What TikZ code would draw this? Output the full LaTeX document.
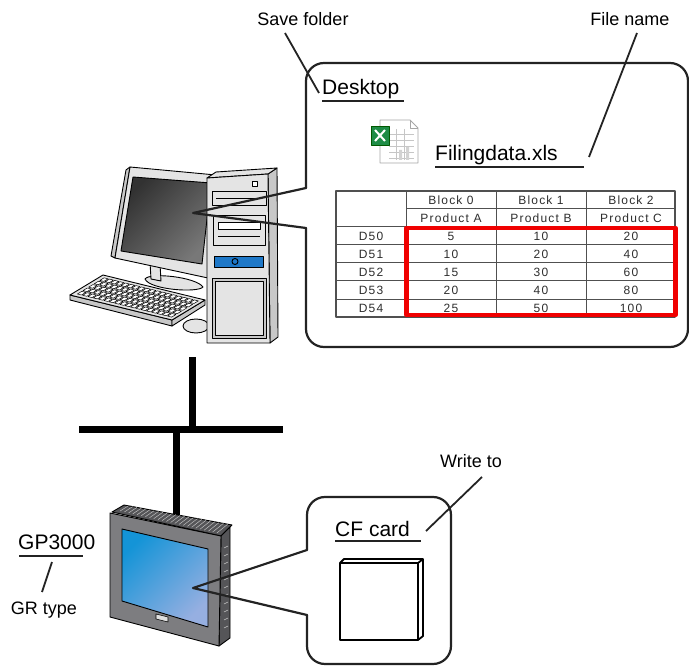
\documentclass[tikz,border=0pt]{standalone}
\usepackage{fontspec}
\setmainfont{Liberation Sans}
\newfontfamily\tabfont[LetterSpace=10]{Liberation Sans}
\definecolor{linecol}{RGB}{35,35,35}
\definecolor{tabline}{RGB}{80,80,80}
\definecolor{tabtext}{RGB}{45,45,45}
\definecolor{pcgray}{RGB}{228,228,228}
\definecolor{pcside}{RGB}{200,200,200}
\definecolor{pcblue}{RGB}{30,120,200}
\definecolor{scrA}{RGB}{50,50,50}
\definecolor{scrB}{RGB}{120,120,120}
\definecolor{gpgray}{RGB}{125,125,128}
\definecolor{gpdark}{RGB}{85,85,88}
\definecolor{gpA}{RGB}{20,148,215}
\definecolor{gpB}{RGB}{150,175,225}
\definecolor{xlgreen}{RGB}{30,140,70}
\definecolor{redbox}{RGB}{240,0,0}
\begin{document}
\begin{tikzpicture}[x=1pt,y=-1pt,line join=round,
  callout/.style={draw=linecol,line width=2.2pt},
  leader/.style={draw=linecol,line width=1.8pt},
  uline/.style={draw=linecol,line width=2.2pt},
  captxt/.style={font=\fontsize{18}{20}\selectfont,inner sep=0pt},
  bigtxt/.style={font=\fontsize{21}{24}\selectfont,inner sep=0pt},
  celltxt/.style={font=\tabfont\fontsize{12}{13}\selectfont,text=tabtext,inner sep=0pt},
  part/.style={draw=black,line width=0.9pt},
  net/.style={draw=black,line width=7pt}]
\useasboundingbox (0,0) rectangle (689,666);

% ---------------- network ----------------
\coordinate (pcport) at (192,357);
\coordinate (pcjoin) at (192,429);
\coordinate (busL) at (79,429);
\coordinate (busR) at (283,429);
\coordinate (gpjoin) at (176,429);
\coordinate (gpport) at (176,515);
\draw[net] (pcport) -- (pcjoin);
\draw[net] (busL) -- (busR);
\draw[net] (gpjoin) -- (gpport);

% ---------------- PC ----------------
% monitor stand
\draw[part,fill=pcgray] (145,279) .. controls (150,272) and (196,277) .. (203,287) .. controls (198,293) and (150,290) .. (145,279) -- cycle;
\draw[part,fill=pcgray] (150,262) -- (160,264) -- (161,281) -- (151,279) -- cycle;
% monitor
\draw[part,fill=pcside] (130,167) -- (126,170) -- (111,256) -- (115,258) -- cycle;
\draw[part,fill=pcgray] (130,167) -- (216,175) -- (208,278) -- (115,258) -- cycle;
\shade[top color=scrA,bottom color=scrB,shading angle=45] (133,177) -- (211,183) -- (202,264) -- (121,251) -- cycle;
\draw[part] (133,177) -- (211,183) -- (202,264) -- (121,251) -- cycle;
% keyboard
\draw[part,fill=pcside] (70,295) -- (172,320) -- (172,326) -- (70,300) -- cycle;
\draw[part,fill=pcside] (172,320) -- (205,300) -- (205,305) -- (172,326) -- cycle;
\draw[part,fill=pcgray] (103,275) -- (205,300) -- (172,320) -- (70,295) -- cycle;
\begin{scope}[shift={(103,275)},x={(102pt,-25pt)},y={(-33pt,-20pt)}]
  \foreach \i in {0,...,17}
    \foreach \j in {0,...,4}
      \draw[black,line width=0.5pt,fill=white]
        ({0.04+\i*0.052},{0.09+\j*0.17}) -- ++(0.04,0) -- ++(0,0.13) -- ++(-0.04,0) -- cycle;
\end{scope}
% mouse
\draw[part,fill=pcgray] (196,326) ellipse [x radius=13pt,y radius=7pt];
% tower
\draw[part,fill=pcside] (268,174) -- (277,168) -- (278,337) -- (270,343) -- cycle;
\draw[part,fill=pcgray] (207,178) -- (216,172) -- (277,168) -- (268,174) -- cycle;
\draw[part,fill=pcgray] (207,178) -- (268,174) -- (270,343) -- (207,343) -- cycle;
\draw[part,fill=white] (252,181) rectangle (257,186);
\draw[part,fill=pcgray] (212,191) rectangle (266,205);
\draw[part] (216,198) -- (262,198);
\draw[part,fill=pcgray] (213,215) rectangle (265,245);
\draw[part,fill=white] (218,222) rectangle (260,229);
\draw[part] (218,236) -- (260,236);
\draw[part,fill=pcblue] (214,256) rectangle (263,267);
\draw[part] (235,261.5) circle [radius=3pt];
\draw[part,fill=pcside] (212,278) rectangle (266,338);
\draw[part,fill=pcgray] (215,281) rectangle (263,335);

% ---------------- top callout ----------------
\draw[callout,rounded corners=18pt,line cap=round] (306,228) -- (306,347) -- (688,347) -- (688,63) -- (306,63) -- (306,188);
\coordinate (pctip) at (193,213);
\draw[callout,line cap=round] (306,188) -- (pctip) -- (306,228);

% labels top
\node[captxt,anchor=base] (savefolder) at (303,26) {Save folder};
\node[captxt,anchor=base] (filename) at (630,26) {File name};
\node[bigtxt,anchor=base west] (desktop) at (322,95) {Desktop};
\node[bigtxt,anchor=base west] (filing) at (435,161) {Filingdata.xls};
\coordinate (dskL) at (322,101);
\coordinate (dskR) at (404,101);
\coordinate (filL) at (435,167);
\coordinate (filR) at (584,167);
\draw[uline] (dskL) -- (dskR);
\draw[uline] (filL) -- (filR);
\coordinate (sfA) at (285,33);
\coordinate (sfB) at (319,93);
\coordinate (fnA) at (637,33);
\coordinate (fnB) at (589,157);
\draw[leader] (sfA) -- (sfB);
\draw[leader] (fnA) -- (fnB);

% excel icon
\draw[gray!70,fill=white,line width=0.8pt] (380,120) -- (410,120) -- (418,128) -- (418,163) -- (380,163) -- cycle;
\draw[gray!70,line width=0.8pt] (410,120) -- (410,128) -- (418,128);
\foreach \yy in {134,140,146,152,158} \draw[gray!45,line width=0.6pt] (389,\yy) -- (414,\yy);
\foreach \xx in {396,404} \draw[gray!45,line width=0.6pt] (\xx,129) -- (\xx,160);
\fill[gray!35] (399,150) rectangle (402,160) (406,147) rectangle (409,160);
\draw[fill=xlgreen,draw=green!35!black,line width=0.8pt] (371,126) rectangle (389,145);
\draw[white,line width=2pt] (375,130) -- (385,141) (385,130) -- (375,141);

% table
\draw[tabline,line width=1.2pt] (336,191) rectangle (675,317);
\foreach \xx in {406,496,586} \draw[tabline,line width=1pt] (\xx,191) -- (\xx,317);
\draw[tabline,line width=1pt] (406,209) -- (675,209);
\foreach \yy in {227,245,263,281,299} \draw[tabline,line width=1pt] (336,\yy) -- (675,\yy);
\node[celltxt] (h0) at (451,200) {Block 0};
\node[celltxt] (h1) at (541,200) {Block 1};
\node[celltxt] (h2) at (631,200) {Block 2};
\node[celltxt] (p0) at (451,218) {Product A};
\node[celltxt] (p1) at (541,218) {Product B};
\node[celltxt] (p2) at (631,218) {Product C};
\foreach \r/\a/\b/\c [count=\k from 0] in {D50/5/10/20,D51/10/20/40,D52/15/30/60,D53/20/40/80,D54/25/50/100}{
  \node[celltxt] (r\k) at (371,{236+18*\k}) {\r};
  \node[celltxt] (a\k) at (451,{236+18*\k}) {\a};
  \node[celltxt] (b\k) at (541,{236+18*\k}) {\b};
  \node[celltxt] (c\k) at (631,{236+18*\k}) {\c};
}
\draw[redbox,line width=4.8pt] (406.5,228) rectangle (675.5,315);

% ---------------- GP ----------------
\draw[part,fill=gpdark] (112,512) -- (124,505) -- (232,525) -- (221,536) -- cycle;
\foreach \t in {0.04,0.08,...,0.97}
  \draw[gray!50,line width=0.5pt] ({124+108*\t},{505+20*\t}) -- ({116+105*\t},{510+24*\t});
\draw[part,fill=gpdark] (221,536) -- (230,527) -- (230,638) -- (219,646) -- cycle;
\foreach \yy in {548,556,...,630} \draw[gray!45,line width=0.5pt] (224,\yy) -- (228,{\yy-2});
\draw[part,fill=gpgray] (110,513) -- (221,536) -- (219,646) -- (110,617) -- cycle;
\shade[top color=gpA,bottom color=gpB,shading angle=45] (122,529) -- (208,549) -- (208,627) -- (122,601) -- cycle;
\draw[part] (122,529) -- (208,549) -- (208,627) -- (122,601) -- cycle;
\draw[fill=gray!25,draw=black,line width=0.6pt] (156,614) -- (168,617) -- (168,622) -- (156,619) -- cycle;

% GP labels
\node[bigtxt,anchor=base west] (gp) at (18,549) {GP3000};
\coordinate (gpL) at (19,556);
\coordinate (gpR) at (83,556);
\draw[uline] (gpL) -- (gpR);
\coordinate (gtA) at (52,562);
\coordinate (gtB) at (42,592);
\draw[leader] (gtA) -- (gtB);
\node[captxt,anchor=base] (grtype) at (44,614) {GR type};

% ---------------- CF callout ----------------
\draw[callout,rounded corners=18pt,line cap=round] (307,615) -- (307,664) -- (451,664) -- (451,497) -- (307,497) -- (307,550);
\coordinate (gptip) at (193,588);
\draw[callout,line cap=round] (307,550) -- (gptip) -- (307,615);
\node[bigtxt,anchor=base west] (cfcard) at (335,536) {CF card};
\coordinate (cfL) at (335,541);
\coordinate (cfR) at (421,541);
\draw[uline] (cfL) -- (cfR);
\node[captxt,anchor=base] (writeto) at (471,467) {Write to};
\coordinate (wtA) at (482,477);
\coordinate (wtB) at (426,531);
\draw[leader] (wtA) -- (wtB);
% card
\draw[line width=1.8pt,fill=white] (340,563) -- (344,559) -- (423,559) -- (423,636) -- (418,640) -- (340,640) -- cycle;
\draw[line width=1.8pt] (340,563) -- (418,563) -- (423,559) (418,563) -- (418,640);
\end{tikzpicture}
\end{document}
